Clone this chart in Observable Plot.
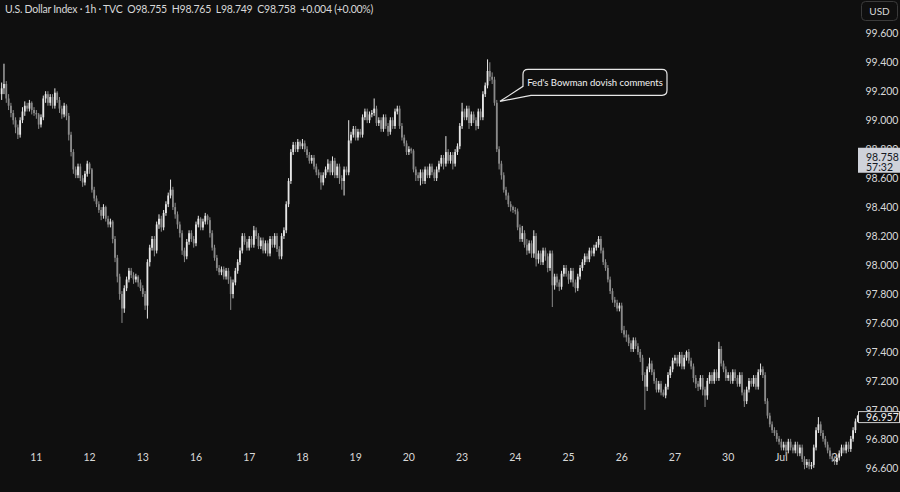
<!DOCTYPE html>
<html><head><meta charset="utf-8">
<script src="https://cdn.jsdelivr.net/npm/d3@7"></script>
<script src="https://cdn.jsdelivr.net/npm/@observablehq/plot@0.6"></script>
<style>
html,body{margin:0;padding:0;background:#0f0f0f;}
#wrap{position:relative;width:900px;height:492px;overflow:hidden;background:#0f0f0f;}
#hdr{position:absolute;left:5px;top:3px;font:10.5px Lato, sans-serif;letter-spacing:-0.25px;color:#d8d8d8;white-space:pre;z-index:2;}
</style></head><body><div id="wrap"><div id="hdr"></div></div>
<script>
// ---- data ----
const headerText = "U.S. Dollar Index · 1h · TVC  O98.755  H98.765  L98.749  C98.758  +0.004 (+0.00%)";
const dayLabels = ["11","12","13","16","17","18","19","20","23","24","25","26","27","30","Jul","2"];
const dayStartBars = [15,38,61,84,107,130,153,176,199,222,245,268,291,314,337,360];
const priceTicks = [96.6,96.8,97.0,97.2,97.4,97.6,97.8,98.0,98.2,98.4,98.6,98.8,99.0,99.2,99.4,99.6];
const firstOpen = 99.18;
const closes = [
99.22,99.25,99.15,99.10,99.05,99.00,98.95,98.90,99.00,99.06,
99.10,99.08,99.12,99.07,99.05,99.04,98.97,99.02,99.15,99.18,
99.12,99.16,99.10,99.19,99.14,99.08,99.04,99.10,99.03,98.90,
98.78,98.66,98.62,98.68,98.60,98.57,98.63,98.70,98.66,98.52,
98.46,98.42,98.38,98.34,98.40,98.32,98.28,98.30,98.18,98.05,
97.92,97.80,97.70,97.84,97.90,97.96,97.93,97.90,97.92,97.88,
97.84,97.80,97.72,98.02,98.12,98.18,98.10,98.28,98.32,98.26,
98.36,98.42,98.48,98.52,98.40,98.35,98.28,98.22,98.10,98.06,
98.16,98.22,98.18,98.15,98.28,98.32,98.26,98.30,98.34,98.31,
98.22,98.12,98.05,97.98,97.95,97.97,97.92,97.96,97.90,97.80,
97.88,97.96,98.02,98.10,98.20,98.16,98.12,98.18,98.14,98.24,
98.20,98.13,98.17,98.10,98.15,98.08,98.18,98.14,98.20,98.11,
98.06,98.20,98.24,98.42,98.58,98.78,98.83,98.80,98.85,98.82,
98.84,98.80,98.76,98.72,98.74,98.68,98.64,98.62,98.57,98.62,
98.66,98.70,98.64,98.72,98.62,98.68,98.60,98.58,98.66,98.64,
98.86,98.90,98.94,98.88,98.92,98.90,99.02,99.06,99.00,99.04,
99.05,99.08,98.98,99.00,98.94,99.02,98.96,98.92,99.00,98.96,
99.06,99.08,98.96,98.88,98.84,98.78,98.80,98.79,98.66,98.62,
98.60,98.64,98.58,98.66,98.62,98.68,98.64,98.60,98.66,98.70,
98.74,98.70,98.78,98.72,98.76,98.70,98.78,98.82,98.96,99.06,
99.02,99.08,98.98,99.04,99.00,98.96,99.06,99.02,99.18,99.24,
99.34,99.30,99.28,99.12,98.80,98.70,98.62,98.52,98.48,98.42,
98.40,98.38,98.37,98.26,98.18,98.22,98.14,98.10,98.15,98.08,
98.20,98.04,98.08,98.02,98.10,98.06,97.98,98.08,97.86,97.92,
97.88,97.85,97.94,97.98,97.94,97.90,97.96,97.88,97.84,97.92,
97.98,98.02,98.06,98.04,98.10,98.08,98.12,98.14,98.18,98.10,
98.02,97.98,97.90,97.82,97.76,97.74,97.70,97.72,97.55,97.52,
97.50,97.46,97.42,97.48,97.44,97.40,97.36,97.24,97.16,97.28,
97.32,97.26,97.20,97.14,97.18,97.12,97.10,97.16,97.24,97.28,
97.34,97.36,97.32,97.38,97.30,97.36,97.40,97.34,97.30,97.22,
97.18,97.16,97.22,97.14,97.10,97.20,97.24,97.20,97.26,97.22,
97.42,97.32,97.28,97.22,97.24,97.20,97.26,97.22,97.18,97.24,
97.12,97.06,97.14,97.20,97.18,97.22,97.16,97.26,97.28,97.24,
97.06,96.96,96.90,96.86,96.84,96.80,96.78,96.74,96.76,96.72,
96.78,96.74,96.72,96.76,96.70,96.74,96.66,96.62,96.64,96.61,
96.62,96.74,96.86,96.90,96.84,96.80,96.76,96.72,96.68,96.66,
96.64,96.67,96.70,96.74,96.72,96.76,96.73,96.80,96.86,96.92,96.957];
const highs = [
99.26,99.39,99.27,99.18,99.12,99.07,99.02,98.97,99.02,99.09,
99.13,99.12,99.14,99.13,99.09,99.07,99.05,99.04,99.17,99.20,
99.20,99.18,99.18,99.22,99.20,99.16,99.10,99.12,99.11,99.05,
98.92,98.80,98.68,98.70,98.70,98.62,98.65,98.72,98.71,98.67,
98.54,98.48,98.44,98.40,98.42,98.41,98.34,98.32,98.31,98.20,
98.07,97.94,97.82,97.86,97.92,97.98,97.98,97.95,97.94,97.93,
97.90,97.86,97.82,98.04,98.14,98.20,98.20,98.30,98.35,98.34,
98.38,98.44,98.50,98.59,98.54,98.43,98.37,98.30,98.24,98.12,
98.18,98.24,98.24,98.20,98.30,98.34,98.33,98.32,98.36,98.35,
98.33,98.24,98.14,98.07,98.00,97.99,97.99,97.98,97.98,97.92,
97.90,97.98,98.04,98.12,98.22,98.22,98.18,98.20,98.20,98.27,
98.26,98.22,98.19,98.19,98.17,98.17,98.20,98.20,98.22,98.22,
98.13,98.22,98.26,98.44,98.60,98.80,98.85,98.85,98.87,98.86,
98.87,98.86,98.82,98.78,98.76,98.76,98.70,98.66,98.64,98.64,
98.68,98.73,98.72,98.75,98.74,98.70,98.70,98.62,98.68,98.68,
99.00,98.92,98.96,98.96,98.94,98.94,99.04,99.08,99.08,99.06,
99.07,99.15,99.10,99.02,99.02,99.04,99.04,98.98,99.02,99.02,
99.08,99.10,99.10,98.98,98.90,98.86,98.82,98.81,98.80,98.68,
98.64,98.66,98.66,98.68,98.68,98.70,98.70,98.66,98.68,98.72,
98.76,98.76,98.89,98.80,98.78,98.78,98.80,98.84,98.98,99.12,
99.08,99.10,99.10,99.06,99.06,99.02,99.08,99.08,99.20,99.26,
99.42,99.40,99.33,99.30,99.14,98.82,98.72,98.64,98.54,98.50,
98.44,98.41,98.40,98.39,98.28,98.27,98.24,98.18,98.17,98.17,
98.24,98.22,98.10,98.10,98.12,98.12,98.08,98.10,98.10,97.94,
97.94,97.90,97.96,98.00,98.00,97.96,97.98,97.98,97.90,97.94,
98.00,98.04,98.08,98.08,98.12,98.12,98.14,98.16,98.20,98.20,
98.12,98.04,98.00,97.92,97.84,97.78,97.76,97.74,97.74,97.58,
97.55,97.52,97.48,97.50,97.50,97.46,97.42,97.38,97.26,97.30,
97.36,97.34,97.28,97.22,97.20,97.20,97.14,97.18,97.26,97.30,
97.36,97.38,97.38,97.40,97.40,97.38,97.41,97.42,97.36,97.32,
97.24,97.20,97.24,97.24,97.16,97.22,97.26,97.26,97.28,97.28,
97.47,97.44,97.34,97.30,97.26,97.26,97.28,97.28,97.24,97.26,
97.26,97.14,97.16,97.22,97.22,97.24,97.24,97.28,97.32,97.30,
97.26,97.08,96.98,96.92,96.88,96.86,96.82,96.80,96.78,96.78,
96.80,96.80,96.76,96.78,96.78,96.76,96.76,96.68,96.66,96.66,
96.64,96.76,96.88,96.95,96.92,96.86,96.82,96.78,96.74,96.70,
96.68,96.69,96.72,96.76,96.76,96.78,96.78,96.82,96.88,96.94,96.965];
const lows = [
99.14,99.18,99.12,99.07,99.02,98.97,98.91,98.87,98.88,98.98,
99.03,99.06,99.06,99.04,99.03,99.01,98.94,98.95,99.00,99.12,
99.10,99.10,99.08,99.08,99.12,99.05,99.01,99.02,99.00,98.86,
98.75,98.63,98.60,98.60,98.58,98.54,98.55,98.61,98.63,98.50,
98.44,98.40,98.36,98.31,98.32,98.30,98.26,98.26,98.15,98.02,
97.88,97.76,97.60,97.67,97.82,97.88,97.91,97.87,97.88,97.85,
97.82,97.78,97.69,97.63,97.99,98.10,98.06,98.08,98.25,98.23,
98.24,98.34,98.40,98.46,98.38,98.32,98.25,98.19,98.07,98.02,
98.04,98.14,98.16,98.12,98.13,98.26,98.24,98.24,98.28,98.28,
98.19,98.10,98.03,97.96,97.93,97.93,97.90,97.90,97.87,97.69,
97.77,97.86,97.94,98.00,98.08,98.14,98.10,98.10,98.12,98.12,
98.18,98.11,98.11,98.08,98.08,98.06,98.06,98.12,98.12,98.09,
98.04,98.04,98.18,98.22,98.40,98.56,98.76,98.78,98.78,98.80,
98.80,98.78,98.74,98.70,98.70,98.66,98.62,98.60,98.52,98.55,
98.60,98.64,98.62,98.62,98.60,98.60,98.56,98.52,98.48,98.62,
98.62,98.84,98.88,98.86,98.86,98.88,98.88,99.00,98.98,98.98,
99.02,99.03,98.96,98.96,98.92,98.92,98.94,98.89,98.90,98.94,
98.94,99.04,98.94,98.86,98.82,98.76,98.76,98.77,98.64,98.58,
98.58,98.55,98.56,98.56,98.60,98.60,98.62,98.58,98.58,98.64,
98.68,98.66,98.68,98.70,98.70,98.66,98.68,98.76,98.80,98.94,
99.00,99.00,98.94,98.96,98.98,98.93,98.94,99.00,99.00,99.16,
99.22,99.27,99.25,99.10,98.78,98.66,98.59,98.50,98.45,98.40,
98.37,98.36,98.35,98.24,98.16,98.16,98.12,98.07,98.08,98.05,
98.05,97.99,98.01,98.00,98.00,98.03,97.95,97.96,97.71,97.83,
97.85,97.82,97.83,97.92,97.92,97.87,97.88,97.85,97.81,97.82,
97.90,97.96,98.00,98.02,98.02,98.06,98.06,98.10,98.12,98.08,
98.00,97.96,97.88,97.80,97.74,97.71,97.68,97.68,97.53,97.50,
97.47,97.44,97.40,97.40,97.42,97.38,97.33,97.20,97.00,97.13,
97.26,97.24,97.18,97.12,97.12,97.10,97.09,97.08,97.14,97.22,
97.26,97.32,97.30,97.30,97.28,97.28,97.34,97.32,97.28,97.19,
97.15,97.13,97.14,97.10,97.02,97.07,97.18,97.18,97.18,97.20,
97.20,97.30,97.26,97.20,97.20,97.18,97.18,97.20,97.16,97.16,
97.10,97.02,97.04,97.12,97.16,97.16,97.14,97.14,97.24,97.22,
97.04,96.94,96.88,96.84,96.82,96.78,96.76,96.72,96.72,96.68,
96.70,96.72,96.70,96.70,96.68,96.68,96.64,96.59,96.60,96.59,
96.59,96.60,96.72,96.84,96.82,96.78,96.74,96.70,96.66,96.64,
96.62,96.62,96.65,96.68,96.70,96.70,96.71,96.71,96.78,96.84,96.915];
const lastPrice = 96.957;
const headerClose = 98.758;
const countdown = "57:32";
const annotations = [{bar: 215.6, value: 99.13, text: "Fed's Bowman dovish comments"}];
const currency = "USD";

// ---- styles ----
const upColor = "#e6e6e6", downColor = "#8a8a8a";
const bg = "#0f0f0f", txt = "#d8d8d8";

const bars = closes.map((c, i) => ({
  i, open: i === 0 ? firstOpen : closes[i - 1], close: c, high: highs[i], low: lows[i]
}));
const candleColor = d => d.close >= d.open ? upColor : downColor;

document.getElementById("hdr").textContent = headerText;

const chart = Plot.plot({
  width: 900, height: 492,
  marginTop: 0, marginLeft: 0, marginRight: 40, marginBottom: 45,
  style: {background: "transparent", color: txt, fontFamily: "Lato, sans-serif", fontSize: "10.5px", overflow: "visible"},
  x: {type: "linear", domain: [-0.5, 371.2], range: [0, 860], label: null},
  y: {type: "linear", domain: [96.6, 99.6], range: [467.8, 33.3], label: null},
  color: {type: "identity"},
  marks: [
    Plot.axisX(dayStartBars, {anchor: "bottom", tickSize: 0, tickPadding: 6,
      tickFormat: d => dayLabels[dayStartBars.indexOf(d)], label: null}),
    Plot.axisY(priceTicks, {anchor: "right", tickSize: 0, tickPadding: 5,
      tickFormat: d3.format(".3f"), label: null}),
    Plot.ruleX(bars, {x: "i", y1: "low", y2: "high", stroke: candleColor, strokeWidth: 1}),
    Plot.ruleX(bars, {x: "i", y1: "open", y2: "close", stroke: candleColor, strokeWidth: 1.8})
  ]
});
document.getElementById("wrap").appendChild(chart);

const xs = chart.scale("x"), ys = chart.scale("y");
const svg = d3.select(chart);
const font = "Lato, sans-serif";

// annotation bubble
annotations.forEach(a => {
  const tx = xs.apply(a.bar), ty = ys.apply(a.value);
  const left = tx + 23, right = tx + 167, top = ty - 32, bottom = ty - 6, r = 5;
  svg.append("path")
    .attr("d", `M${left + r},${top} H${right - r} Q${right},${top} ${right},${top + r} V${bottom - r} Q${right},${bottom} ${right - r},${bottom} H${left + 8} L${tx},${ty} L${left},${bottom - 9} V${top + r} Q${left},${top} ${left + r},${top} Z`)
    .attr("fill", bg).attr("stroke", "#e6e6e6").attr("stroke-width", 1.2);
  svg.append("text").attr("x", (left + right) / 2).attr("y", (top + bottom) / 2)
    .attr("text-anchor", "middle").attr("dominant-baseline", "central")
    .attr("fill", "#f2f2f2").attr("font-family", font).attr("font-size", 9.5).text(a.text);
});

// price label boxes
const yc = ys.apply(headerClose);
svg.append("rect").attr("x", 858).attr("y", yc - 7.5).attr("width", 42).attr("height", 25).attr("fill", "#cfd2da");
svg.append("text").attr("x", 866).attr("y", yc + 1.5).attr("text-anchor", "start").attr("dominant-baseline", "central")
  .attr("fill", "#131722").attr("font-family", font).attr("font-size", 10.5).text(d3.format(".3f")(headerClose));
svg.append("text").attr("x", 866).attr("y", yc + 11.5).attr("text-anchor", "start").attr("dominant-baseline", "central")
  .attr("fill", "#131722").attr("font-family", font).attr("font-size", 10.5).text(countdown);

const yl = ys.apply(lastPrice);
svg.append("rect").attr("x", 858.5).attr("y", yl - 4.5).attr("width", 41).attr("height", 11).attr("fill", bg)
  .attr("stroke", "#cfcfcf").attr("stroke-width", 1);
svg.append("text").attr("x", 866).attr("y", yl + 1).attr("text-anchor", "start").attr("dominant-baseline", "central")
  .attr("fill", "#f0f0f0").attr("font-family", font).attr("font-size", 10.5).text(d3.format(".3f")(lastPrice));

// currency button
svg.append("rect").attr("x", 861.5).attr("y", 1.5).attr("width", 36).attr("height", 19).attr("rx", 4)
  .attr("fill", "none").attr("stroke", "#3a3a3a");
svg.append("text").attr("x", 879.5).attr("y", 11).attr("text-anchor", "middle").attr("dominant-baseline", "central")
  .attr("fill", txt).attr("font-family", font).attr("font-size", 10).text(currency);
</script></body></html>
